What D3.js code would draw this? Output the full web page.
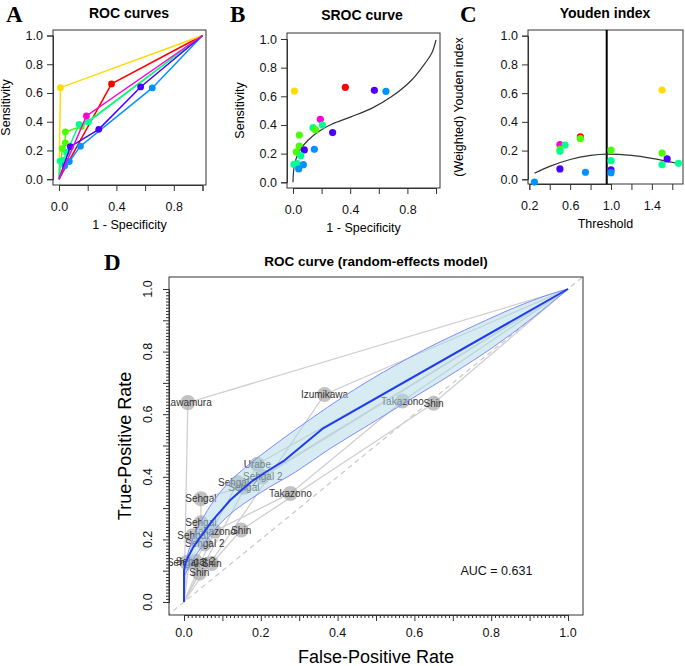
<!DOCTYPE html>
<html><head><meta charset="utf-8">
<script src="https://cdn.jsdelivr.net/npm/d3@7"></script>
<style>body{margin:0;background:#fff}svg{display:block}text{font-family:"Liberation Sans",Arial,sans-serif}</style>
</head><body><div id="chart"></div>
<script>
// ---------- data ----------
const studies = ["Izumikawa","Kawamura","Sehgal","Sehgal 2","Shin","Takazono","Urabe"];
const studyColors = ["#FF0000","#FFDB00","#49FF00","#00FF92","#0092FF","#4900FF","#FF00DB"];
// individual thresholds (study, 1-specificity, sensitivity)
const ptStudy = ["Kawamura","Izumikawa","Takazono","Shin","Urabe","Sehgal 2","Sehgal 2","Sehgal","Sehgal","Takazono","Sehgal","Takazono","Shin","Sehgal","Sehgal 2","Sehgal 2","Sehgal 2","Shin","Shin"];
const ptFPR = [0.010,0.366,0.569,0.650,0.191,0.205,0.140,0.156,0.044,0.277,0.044,0.079,0.149,0.023,0.054,0.030,0.007,0.072,0.040];
const ptTPR = [0.637,0.663,0.642,0.635,0.440,0.400,0.381,0.367,0.330,0.347,0.253,0.226,0.230,0.212,0.186,0.130,0.126,0.123,0.093];
// SROC curve (panel B)
const srocX = [0,0.005,0.019,0.049,0.107,0.177,0.27,0.41,0.55,0.69,0.83,0.923,0.97,1.0];
const srocY = [0,0.086,0.156,0.226,0.295,0.353,0.405,0.458,0.516,0.598,0.714,0.83,0.9,0.993];
// Youden index (panel C)
const yStudy = ["Shin","Urabe","Sehgal 2","Sehgal","Sehgal 2","Izumikawa","Sehgal","Takazono","Shin","Sehgal","Sehgal 2","Takazono","Shin","Kawamura","Sehgal","Sehgal 2","Takazono","Sehgal 2"];
const yThreshold = [0.25,0.5,0.55,0.5,0.5,0.7,0.7,0.5,0.75,1.0,1.0,1.0,1.0,1.5,1.5,1.5,1.55,1.66];
const yIndex = [-0.019,0.241,0.239,0.209,0.195,0.295,0.283,0.072,0.049,0.204,0.13,0.065,0.046,0.622,0.183,0.102,0.142,0.111];
const youdenCurveX = [0.25,0.4,0.6,0.8,0.96,1.2,1.4,1.66];
const youdenCurveY = [0.042,0.09,0.138,0.166,0.175,0.166,0.146,0.11];
const optimalThreshold = 0.958;
// random-effects summary ROC (panel D)
const sumX = [0,0,0.003,0.011,0.025,0.042,0.06,0.076,0.1,0.12,0.15,0.176,0.21,0.259,0.36,1];
const sumY = [0,0.1,0.122,0.145,0.177,0.206,0.237,0.263,0.297,0.325,0.358,0.385,0.413,0.45,0.553,1];
const bandUpX = [0,0.006,0.015,0.035,0.07,0.115,0.17,0.25,0.33,0.42,0.52,0.64,0.76,0.86,0.95,1];
const bandUpY = [0.08,0.135,0.175,0.235,0.31,0.38,0.44,0.515,0.585,0.66,0.735,0.815,0.885,0.94,0.982,1];
const bandLoX = [0,0.012,0.045,0.11,0.2,0.29,0.38,0.48,0.58,0.7,0.8,0.9,1];
const bandLoY = [0.08,0.11,0.175,0.27,0.35,0.415,0.49,0.565,0.64,0.73,0.81,0.9,1];
const aucLabel = "AUC = 0.631";
const ticks01 = [0,0.2,0.4,0.6,0.8,1.0];

// ---------- setup ----------
const color = d3.scaleOrdinal().domain(studies).range(studyColors);
const svg = d3.select("#chart").append("svg").attr("width",685).attr("height",666);
svg.append("rect").attr("width",685).attr("height",666).attr("fill","#fff");
const fmt = d3.format(".1f");

function panelLetter(t,x,y){
  svg.append("text").text(t).attr("x",x).attr("y",y)
    .style("font-family","'Liberation Serif','Times New Roman',serif").style("font-weight","bold").style("font-size","23px");
}
function title(t,x,y,size){
  svg.append("text").text(t).attr("x",x).attr("y",y).attr("text-anchor","middle")
    .style("font-weight","bold").style("font-size",size+"px");
}
function frame(x0,x1,y0,y1){
  svg.append("rect").attr("x",x0).attr("y",y0).attr("width",x1-x0).attr("height",y1-y0)
    .attr("fill","none").attr("stroke","#333").attr("stroke-width",1);
}
function styleAxis(g,fs){
  g.selectAll("path.domain").attr("stroke","#333");
  g.selectAll(".tick line").attr("stroke","#333");
  g.selectAll("text").style("font-family","'Liberation Sans',Arial,sans-serif").style("font-size",fs+"px").attr("fill","#111");
}
function smallPanel(o){
  frame(o.bx0,o.bx1,o.by0,o.by1);
  const gx = svg.append("g").attr("transform",`translate(0,${o.by1})`)
    .call(d3.axisBottom(o.x).tickValues(o.xt).tickSizeOuter(0).tickSize(6).tickPadding(11)
      .tickFormat(d=>o.xl.includes(d)?fmt(d):""));
  styleAxis(gx,12.5);
  const gy = svg.append("g").attr("transform",`translate(${o.bx0},0)`)
    .call(d3.axisLeft(o.y).tickValues(ticks01).tickSizeOuter(0).tickSize(6).tickPadding(4).tickFormat(fmt));
  styleAxis(gy,12.5);
  svg.append("text").text(o.xlab).attr("x",(o.bx0+o.bx1)/2).attr("y",o.by1+44)
    .attr("text-anchor","middle").style("font-size","12.5px");
  svg.append("text").text(o.ylab)
    .attr("transform",`translate(${o.ylx},${(o.by0+o.by1)/2}) rotate(-90)`)
    .attr("text-anchor","middle").style("font-size","12.5px");
}

// ---------- Panel A ----------
const xA = d3.scaleLinear().domain([0,1]).range([59,202.5]);
const yA = d3.scaleLinear().domain([0,1]).range([179.2,35.5]);
panelLetter("A",6,22); title("ROC curves",129,18,14);
smallPanel({x:xA,y:yA,bx0:53,bx1:206,by0:30,by1:185,xt:ticks01,xl:[0,0.4,0.8],xlab:"1 - Specificity",ylab:"Sensitivity",ylx:10});
const pts = ptStudy.map((s,i)=>({s,x:ptFPR[i],y:ptTPR[i]}));
studies.forEach(s=>{
  const p = pts.filter(d=>d.s===s).sort((a,b)=>a.x-b.x||a.y-b.y);
  const path = [{x:0,y:0}].concat(p,[{x:1,y:1}]);
  svg.append("path").datum(path).attr("fill","none").attr("stroke",color(s)).attr("stroke-width",1.5)
    .attr("d",d3.line().x(d=>xA(d.x)).y(d=>yA(d.y)));
  svg.selectAll(null).data(p).enter().append("circle")
    .attr("cx",d=>xA(d.x)).attr("cy",d=>yA(d.y)).attr("r",3.4).attr("fill",color(s));
});

// ---------- Panel B ----------
const xB = d3.scaleLinear().domain([0,1]).range([293,436]);
const yB = d3.scaleLinear().domain([0,1]).range([182.3,39]);
panelLetter("B",230,22); title("SROC curve",362,20,14);
smallPanel({x:xB,y:yB,bx0:287,bx1:440,by0:33,by1:188,xt:ticks01,xl:[0,0.4,0.8],xlab:"1 - Specificity",ylab:"Sensitivity",ylx:244});
svg.append("path").datum(srocX.map((x,i)=>[x,srocY[i]])).attr("fill","none").attr("stroke","#333").attr("stroke-width",1.2)
  .attr("d",d3.line().x(d=>xB(d[0])).y(d=>yB(d[1])).curve(d3.curveCatmullRom));
svg.selectAll(null).data(pts).enter().append("circle")
  .attr("cx",d=>xB(d.x)).attr("cy",d=>yB(d.y)).attr("r",3.6).attr("fill",d=>color(d.s));

// ---------- Panel C ----------
const xC = d3.scaleLinear().domain([0.2,1.0]).range([529.3,611]);
const yC = d3.scaleLinear().domain([0,1]).range([179.3,35.7]);
panelLetter("C",460,22); title("Youden index",605,18,14);
smallPanel({x:xC,y:yC,bx0:528,bx1:683,by0:30,by1:184,xt:[0.2,0.4,0.6,0.8,1.0,1.2,1.4,1.6],xl:[0.2,0.6,1.0,1.4],xlab:"Threshold",ylab:"(Weighted) Youden index",ylx:463});
svg.append("line").attr("x1",xC(optimalThreshold)).attr("x2",xC(optimalThreshold)).attr("y1",30).attr("y2",184)
  .attr("stroke","#000").attr("stroke-width",2);
svg.append("path").datum(youdenCurveX.map((x,i)=>[x,youdenCurveY[i]])).attr("fill","none").attr("stroke","#333").attr("stroke-width",1.2)
  .attr("d",d3.line().x(d=>xC(d[0])).y(d=>yC(d[1])).curve(d3.curveCatmullRom));
svg.selectAll(null).data(yStudy.map((s,i)=>({s,x:yThreshold[i],y:yIndex[i]}))).enter().append("circle")
  .attr("cx",d=>xC(d.x)).attr("cy",d=>yC(d.y)).attr("r",3.6).attr("fill",d=>color(d.s));

// ---------- Panel D ----------
const xD = d3.scaleLinear().domain([0,1]).range([184,568]);
const yD = d3.scaleLinear().domain([0,1]).range([602,289]);
const DB = {x0:169,x1:583,y0:277,y1:615};
panelLetter("D",104,270); title("ROC curve (random-effects model)",376,266,13.5);
svg.append("defs").append("clipPath").attr("id","clipD").append("rect")
  .attr("x",DB.x0).attr("y",DB.y0).attr("width",DB.x1-DB.x0).attr("height",DB.y1-DB.y0);
const gD = svg.append("g").attr("clip-path","url(#clipD)");
// chance diagonal
gD.append("line").attr("x1",xD(-0.1)).attr("y1",yD(-0.1)).attr("x2",xD(1.1)).attr("y2",yD(1.1))
  .attr("stroke","#c8c8c8").attr("stroke-width",1.2).attr("stroke-dasharray","5,4");
// study curves
studies.forEach(s=>{
  const p = pts.filter(d=>d.s===s).sort((a,b)=>a.x-b.x||a.y-b.y);
  gD.append("path").datum([{x:0,y:0}].concat(p,[{x:1,y:1}])).attr("fill","none")
    .attr("stroke","#cfcfcf").attr("stroke-width",1.3)
    .attr("d",d3.line().x(d=>xD(d.x)).y(d=>yD(d.y)));
});
gD.selectAll(null).data(pts).enter().append("circle")
  .attr("cx",d=>xD(d.x)).attr("cy",d=>yD(d.y)).attr("r",7.5).attr("fill","#a8a8a8").attr("fill-opacity",0.7);
gD.selectAll(null).data(pts).enter().append("text")
  .attr("x",d=>xD(d.x)).attr("y",d=>yD(d.y)+3.5).attr("text-anchor","middle")
  .style("font-size","10px").attr("fill","#333").text(d=>d.s);
// confidence band
const bandLine = d3.line().x(d=>xD(d[0])).y(d=>yD(d[1])).curve(d3.curveCatmullRom);
const upPath = bandLine(bandUpX.map((x,i)=>[x,bandUpY[i]]));
const loPath = bandLine(bandLoX.map((x,i)=>[x,bandLoY[i]]).reverse());
gD.append("path").attr("d",upPath+loPath.replace(/^M/,"L")+"Z")
  .attr("fill","#add8e6").attr("fill-opacity",0.5)
  .attr("stroke","#7e8cff").attr("stroke-width",1);
// summary curve
gD.append("path").datum(sumX.map((x,i)=>[x,sumY[i]])).attr("fill","none").attr("stroke","#1f3cf0").attr("stroke-width",2)
  .attr("stroke-linejoin","round")
  .attr("d",d3.line().x(d=>xD(d[0])).y(d=>yD(d[1])));
frame(DB.x0,DB.x1,DB.y0,DB.y1);
// axes with fine ticks
const fine = d3.range(0,101).map(i=>i/100);
const gxD = svg.append("g").attr("transform",`translate(0,${DB.y1})`)
  .call(d3.axisBottom(xD).tickValues(fine).tickSizeOuter(0).tickSize(3).tickFormat(""));
gxD.selectAll(".tick line").attr("stroke","#333").attr("y2",d=>Math.round(d*100)%10===0?6:3);
gxD.select("path.domain").attr("stroke","#333");
gxD.selectAll(null).data(ticks01).enter().append("text").attr("x",d=>xD(d)).attr("y",22)
  .attr("text-anchor","middle").style("font-size","12.5px").attr("fill","#111").text(fmt);
const gyD = svg.append("g").attr("transform",`translate(${DB.x0},0)`)
  .call(d3.axisLeft(yD).tickValues(fine).tickSizeOuter(0).tickSize(3).tickFormat(""));
gyD.selectAll(".tick line").attr("stroke","#333").attr("x2",d=>Math.round(d*100)%10===0?-6:-3);
gyD.select("path.domain").attr("stroke","#333");
gyD.selectAll(null).data(ticks01).enter().append("text")
  .attr("transform",d=>`translate(-17,${yD(d)}) rotate(-90)`)
  .attr("text-anchor","middle").style("font-size","12.5px").attr("fill","#111").text(fmt);
svg.append("text").text("False-Positive Rate").attr("x",376).attr("y",663).attr("text-anchor","middle").style("font-size","18px");
svg.append("text").text("True-Positive Rate").attr("transform",`translate(131,446) rotate(-90)`).attr("text-anchor","middle").style("font-size","18px");
svg.append("text").text(aucLabel).attr("x",xD(0.72)).attr("y",yD(0.085)).style("font-size","12.5px").attr("fill","#111");
</script></body></html>
